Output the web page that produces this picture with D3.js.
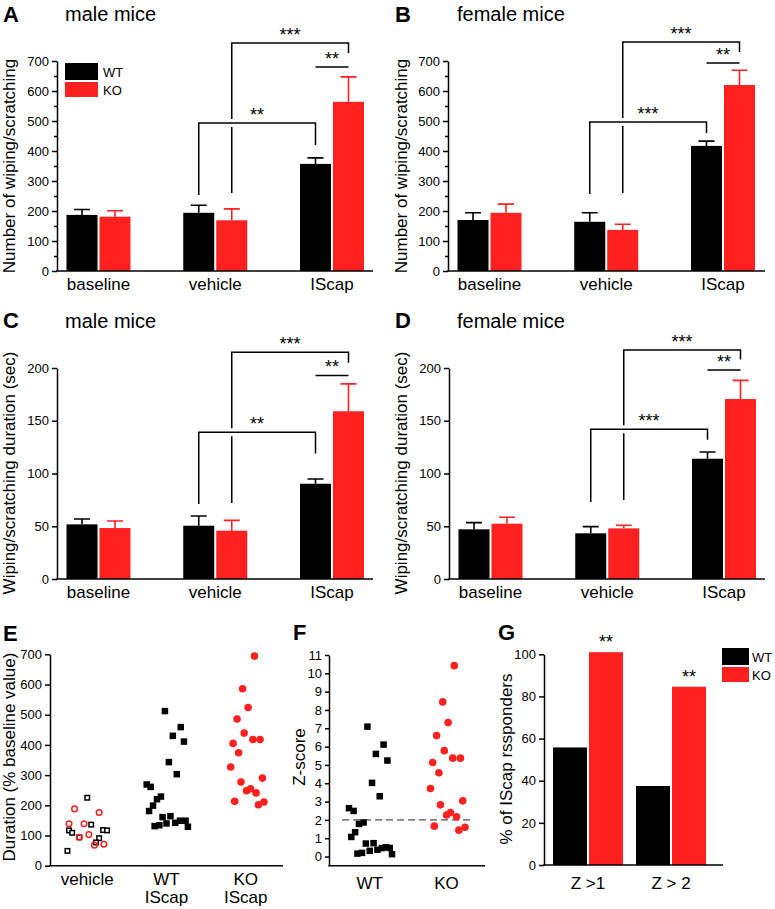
<!DOCTYPE html>
<html><head><meta charset="utf-8">
<script src="https://cdn.jsdelivr.net/npm/d3@7"></script>
<style>body{margin:0;background:#fff}svg{display:block}</style>
</head><body><svg id="chart" width="775" height="909"></svg>
<script>
// ---------- DATA ----------
const groups = ["baseline", "vehicle", "IScap"];
const genotypes = ["WT", "KO"];
// A: male, number of wiping/scratching
const aWT = [187, 194, 357], aWTsem = [18, 25, 20];
const aKO = [181, 169, 564], aKOsem = [20, 38, 83];
// B: female, number
const bWT = [170, 164, 417], bWTsem = [24, 30, 16];
const bKO = [194, 137, 620], bKOsem = [29, 19, 49];
// C: male, duration (sec)
const cWT = [51.8, 50.5, 90.3], cWTsem = [5.1, 9.2, 4.5];
const cKO = [48.3, 45.8, 159], cKOsem = [6.7, 9.8, 26];
// D: female, duration (sec)
const dWT = [47.1, 43.3, 114], dWTsem = [6.3, 6.3, 6.4];
const dKO = [52.4, 48.0, 170.6], dKOsem = [6.1, 2.9, 17.7];
const countTicks = [0, 100, 200, 300, 400, 500, 600, 700];
const countMinor = [50, 150, 250, 350, 450, 550, 650];
const durTicks = [0, 50, 100, 150, 200];
// significance brackets (data units)
const aBrackets = [
  {from: ["vehicle", "KO"], to: ["IScap", "KO"], y: 760, yFrom: 260, yTo: 727, label: "***"},
  {from: ["vehicle", "WT"], to: ["IScap", "WT"], y: 493, yFrom: 253, yTo: 420, label: "**", halo: true},
  {from: ["IScap", "WT"], to: ["IScap", "KO"], y: 680, yFrom: 680, yTo: 680, label: "**"}];
const bBrackets = [
  {from: ["vehicle", "KO"], to: ["IScap", "KO"], y: 763, yFrom: 260, yTo: 730, label: "***"},
  {from: ["vehicle", "WT"], to: ["IScap", "WT"], y: 497, yFrom: 257, yTo: 460, label: "***", halo: true},
  {from: ["IScap", "WT"], to: ["IScap", "KO"], y: 693, yFrom: 693, yTo: 693, label: "**"}];
const cBrackets = [
  {from: ["vehicle", "KO"], to: ["IScap", "KO"], y: 215, yFrom: 72, yTo: 205, label: "***"},
  {from: ["vehicle", "WT"], to: ["IScap", "WT"], y: 139, yFrom: 71, yTo: 119, label: "**", halo: true},
  {from: ["IScap", "WT"], to: ["IScap", "KO"], y: 193, yFrom: 193, yTo: 193, label: "**"}];
const dBrackets = [
  {from: ["vehicle", "KO"], to: ["IScap", "KO"], y: 217, yFrom: 75, yTo: 208, label: "***"},
  {from: ["vehicle", "WT"], to: ["IScap", "WT"], y: 142, yFrom: 73, yTo: 132, label: "***", halo: true},
  {from: ["IScap", "WT"], to: ["IScap", "KO"], y: 198, yFrom: 198, yTo: 198, label: "**"}];

// E: duration (% baseline), jitter in category units
const eCats = [["vehicle"], ["WT", "IScap"], ["KO", "IScap"]];
const eTicks = [0, 100, 200, 300, 400, 500, 600, 700];
const eVehWT = [225, 136, 117, 109, 94, 118, 117, 91, 77, 49];
const eVehWTjit = [0.00, 0.05, -0.23, -0.19, -0.10, 0.20, 0.25, 0.15, 0.11, -0.25];
const eVehKO = [188, 176, 139, 139, 94, 103, 68, 71];
const eVehKOjit = [-0.16, 0.15, -0.23, -0.04, -0.10, 0.02, 0.09, 0.21];
const eWT = [512, 459, 430, 411, 343, 303, 269, 261, 220, 229, 199, 181, 161, 164, 140, 131, 134, 142, 149, 149, 129];
const eWTjit = [-0.02, 0.18, 0.08, 0.22, 0.03, 0.13, -0.25, -0.20, -0.12, -0.07, -0.17, -0.22, -0.05, 0.05, 0.00, -0.15, -0.09, 0.11, 0.17, 0.24, 0.27];
const eKO = [694, 586, 524, 486, 439, 418, 418, 405, 374, 327, 290, 277, 248, 255, 241, 213, 202, 211];
const eKOjit = [0.11, -0.04, 0.03, -0.11, -0.02, 0.09, 0.18, -0.16, -0.09, -0.19, 0.21, -0.06, 0.01, 0.06, 0.13, -0.14, 0.16, 0.23];

// F: Z-score
const fCats = ["WT", "KO"];
const fTicks = [0, 1, 2, 3, 4, 5, 6, 7, 8, 9, 10, 11];
const fThreshold = 2;
const fWT = [7.09, 6.11, 5.60, 5.24, 4.02, 3.29, 2.64, 2.49, 1.86, 1.78, 1.33, 1.07, 0.71, 0.73, 0.31, 0.37, 0.46, 0.51, 0.47, 0.16, 0.20, 0.13];
const fWTjit = [-0.03, 0.18, 0.08, 0.23, 0.03, 0.13, -0.27, -0.21, -0.08, -0.14, -0.19, -0.24, -0.05, 0.05, 0.00, 0.10, 0.16, 0.21, 0.26, -0.16, -0.10, 0.29];
const fKO = [10.42, 8.44, 7.31, 6.60, 5.78, 5.37, 5.37, 5.13, 4.57, 3.71, 3.04, 2.82, 2.27, 2.40, 2.17, 1.66, 1.44, 1.60];
const fKOjit = [0.10, -0.05, 0.02, -0.13, -0.03, 0.08, 0.18, -0.18, -0.10, -0.21, 0.21, -0.08, 0.00, 0.05, 0.13, -0.16, 0.16, 0.24];

// G: % responders
const gCats = ["Z >1", "Z > 2"];
const gWT = [55.8, 37.5];
const gKO = [101, 84.6];
const gSig = ["**", "**"];
const gTicks = [0, 20, 40, 60, 80, 100];

// ---------- DRAWING ----------
const svg = d3.select("#chart");
const FONT = '"Liberation Sans", Arial, Helvetica, sans-serif';
const RED = "#ff2020";
const colors = ["#000000", RED];

function styleAxis(sel) {
  sel.attr("font-family", FONT);
  sel.selectAll("path.domain").attr("stroke", "#000").attr("stroke-width", 1.5);
  sel.selectAll(".tick line").attr("stroke", "#000").attr("stroke-width", 1.5);
  sel.selectAll(".tick text").attr("font-size", 13).attr("fill", "#000");
}
function text(x, y, t, o = {}) {
  return svg.append("text").attr("x", x).attr("y", y).text(t)
    .attr("font-family", FONT).attr("font-size", o.size || 17)
    .attr("font-weight", o.bold ? "bold" : "normal")
    .attr("text-anchor", o.anchor || "start").attr("fill", o.fill || "#000");
}
function ylabel(x, y, t) {
  svg.append("text").attr("transform", `translate(${x},${y}) rotate(-90)`)
    .attr("text-anchor", "middle").attr("font-family", FONT).attr("font-size", 17).text(t);
}

function barPanel(c) {
  const y = d3.scaleLinear().domain([0, c.ymax]).range([c.yBottom, c.yTop]);
  const x = d3.scalePoint().domain(groups).range([c.ax + 41.5, c.ax + 275]);
  const bw = 31;
  const bx = (grp, gi) => x(grp) + (gi === 0 ? -bw - 1 : 1);
  const cx = (grp, gi) => bx(grp, gi) + bw / 2;
  const g = svg.append("g");
  genotypes.forEach((gen, gi) => {
    const rows = groups.map((grp, i) => ({grp, m: c.means[gi][i], s: c.sems[gi][i]}));
    g.selectAll(null).data(rows).join("rect")
      .attr("x", d => bx(d.grp, gi)).attr("width", bw)
      .attr("y", d => y(d.m)).attr("height", d => y(0) - y(d.m))
      .attr("fill", colors[gi]);
    g.selectAll(null).data(rows).join("path")
      .attr("d", d => { const xx = cx(d.grp, gi), t = y(d.m + d.s); return `M${xx},${y(d.m)}V${t}M${xx - 8},${t}H${xx + 8}`; })
      .attr("stroke", colors[gi]).attr("stroke-width", 1.6).attr("fill", "none");
  });
  const ya = g.append("g").attr("transform", `translate(${c.ax},0)`)
    .call(d3.axisLeft(y).tickValues(c.ticks).tickSize(5).tickPadding(3).tickSizeOuter(0));
  styleAxis(ya);
  if (c.minor) {
    const ym = g.append("g").attr("transform", `translate(${c.ax},0)`)
      .call(d3.axisLeft(y).tickValues(c.minor).tickSize(3).tickFormat("").tickSizeOuter(0));
    ym.select("path.domain").remove();
    styleAxis(ym);
  }
  g.append("line").attr("x1", c.ax - 0.75).attr("x2", c.xRight).attr("y1", y(0)).attr("y2", y(0))
    .attr("stroke", "#000").attr("stroke-width", 1.5);
  g.selectAll(null).data(groups).join("text")
    .attr("x", d => x(d)).attr("y", c.labelY).attr("text-anchor", "middle")
    .attr("font-family", FONT).attr("font-size", 17).text(d => d);
  c.brackets.forEach(b => {
    const x1 = cx(b.from[0], genotypes.indexOf(b.from[1]));
    const x2 = cx(b.to[0], genotypes.indexOf(b.to[1]));
    const yy = y(b.y);
    if (b.halo) g.append("line").attr("x1", x1).attr("x2", x2).attr("y1", yy).attr("y2", yy)
      .attr("stroke", "#fff").attr("stroke-width", 8);
    g.append("path").attr("d", `M${x1},${y(b.yFrom)}V${yy}H${x2}V${y(b.yTo)}`)
      .attr("fill", "none").attr("stroke", "#000").attr("stroke-width", 1.5);
    g.append("text").attr("x", (x1 + x2) / 2).attr("y", yy - 2).attr("text-anchor", "middle")
      .attr("font-family", FONT).attr("font-size", 18).text(b.label);
  });
}

[["A", 3, 22], ["B", 395, 22], ["C", 3, 328], ["D", 395, 328], ["E", 3, 641], ["F", 293, 640], ["G", 498, 640]]
  .forEach(([t, x, y]) => text(x, y, t, {size: 22, bold: true}));
text(65, 21, "male mice", {size: 20});
text(457, 21, "female mice", {size: 20});
text(65, 328, "male mice", {size: 20});
text(457, 328, "female mice", {size: 20});

barPanel({ax: 57, xRight: 373, yBottom: 271, yTop: 61, ymax: 700, ticks: countTicks, minor: countMinor,
  means: [aWT, aKO], sems: [aWTsem, aKOsem], labelY: 290, brackets: aBrackets});
barPanel({ax: 448, xRight: 765, yBottom: 271, yTop: 61, ymax: 700, ticks: countTicks, minor: countMinor,
  means: [bWT, bKO], sems: [bWTsem, bKOsem], labelY: 290, brackets: bBrackets});
barPanel({ax: 57, xRight: 373, yBottom: 579, yTop: 368, ymax: 200, ticks: durTicks,
  means: [cWT, cKO], sems: [cWTsem, cKOsem], labelY: 598, brackets: cBrackets});
barPanel({ax: 449, xRight: 765, yBottom: 579, yTop: 368, ymax: 200, ticks: durTicks,
  means: [dWT, dKO], sems: [dWTsem, dKOsem], labelY: 598, brackets: dBrackets});

ylabel(15, 166, "Number of wiping/scratching");
ylabel(407, 166, "Number of wiping/scratching");
ylabel(15, 473, "Wiping/scratching duration (sec)");
ylabel(407, 473, "Wiping/scratching duration (sec)");

svg.append("rect").attr("x", 65).attr("y", 63).attr("width", 33).attr("height", 17).attr("fill", "#000");
svg.append("rect").attr("x", 65).attr("y", 82).attr("width", 33).attr("height", 15).attr("fill", RED);
text(103, 77, "WT", {size: 13});
text(103, 95, "KO", {size: 13});

// ---------- Panel E ----------
{
  const y = d3.scaleLinear().domain([0, 700]).range([865.7, 654.3]);
  const x = d3.scaleLinear().domain([-0.47, 2.47]).range([50, 283]);
  const g = svg.append("g");
  const ya = g.append("g").attr("transform", "translate(50,0)")
    .call(d3.axisLeft(y).tickValues(eTicks).tickSize(5).tickPadding(3).tickSizeOuter(0));
  styleAxis(ya);
  g.append("line").attr("x1", 49.25).attr("x2", 283).attr("y1", y(0)).attr("y2", y(0)).attr("stroke", "#000").attr("stroke-width", 1.5);
  const sq = (vals, jit, cat, filled, s) => g.selectAll(null).data(vals.map((v, i) => [cat + jit[i], v])).join("rect")
    .attr("x", d => x(d[0]) - s / 2).attr("y", d => y(d[1]) - s / 2).attr("width", s).attr("height", s)
    .attr("fill", filled ? "#000" : "#fff").attr("stroke", "#000").attr("stroke-width", filled ? 0 : 1.5);
  const ci = (vals, jit, cat, filled, r) => g.selectAll(null).data(vals.map((v, i) => [cat + jit[i], v])).join("circle")
    .attr("cx", d => x(d[0])).attr("cy", d => y(d[1])).attr("r", r)
    .attr("fill", filled ? RED : "none").attr("stroke", RED).attr("stroke-width", filled ? 0 : 1.5);
  sq(eVehWT, eVehWTjit, 0, false, 4.5);
  ci(eVehKO, eVehKOjit, 0, false, 2.8);
  sq(eWT, eWTjit, 1, true, 6.5);
  ci(eKO, eKOjit, 2, true, 3.8);
  eCats.forEach((lines, i) => lines.forEach((t, j) =>
    g.append("text").attr("x", x(i)).attr("y", 885 + j * 18).attr("text-anchor", "middle")
      .attr("font-family", FONT).attr("font-size", 17).text(t)));
  ylabel(15, 757, "Duration (% baseline value)");
}

// ---------- Panel F ----------
{
  const y = d3.scaleLinear().domain([-0.5, 11]).range([865.7, 655]);
  const x = d3.scaleLinear().domain([-0.53, 1.5]).range([329, 485]);
  const g = svg.append("g");
  const ya = g.append("g").attr("transform", "translate(329,0)")
    .call(d3.axisLeft(y).tickValues(fTicks).tickSize(4).tickPadding(3).tickSizeOuter(0));
  styleAxis(ya);
  g.append("line").attr("x1", 328.25).attr("x2", 485).attr("y1", y(-0.5)).attr("y2", y(-0.5)).attr("stroke", "#000").attr("stroke-width", 1.5);
  g.append("line").attr("x1", x(-0.36)).attr("x2", x(1.32)).attr("y1", y(fThreshold)).attr("y2", y(fThreshold))
    .attr("stroke", "#808080").attr("stroke-width", 1.6).attr("stroke-dasharray", "7,4");
  g.selectAll(null).data(fWT.map((v, i) => [0 + fWTjit[i], v])).join("rect")
    .attr("x", d => x(d[0]) - 3.25).attr("y", d => y(d[1]) - 3.25).attr("width", 6.5).attr("height", 6.5).attr("fill", "#000");
  g.selectAll(null).data(fKO.map((v, i) => [1 + fKOjit[i], v])).join("circle")
    .attr("cx", d => x(d[0])).attr("cy", d => y(d[1])).attr("r", 3.8).attr("fill", RED);
  fCats.forEach((t, i) => g.append("text").attr("x", x(i)).attr("y", 889).attr("text-anchor", "middle")
    .attr("font-family", FONT).attr("font-size", 17).text(t));
  ylabel(305, 757, "Z-score");
}

// ---------- Panel G ----------
{
  const y = d3.scaleLinear().domain([0, 100]).range([865, 654.3]);
  const x = d3.scalePoint().domain(gCats).range([588, 671]);
  const g = svg.append("g");
  const bw = 34;
  [gWT, gKO].forEach((vals, gi) => {
    g.selectAll(null).data(gCats.map((c, i) => [c, vals[i]])).join("rect")
      .attr("x", d => x(d[0]) + (gi === 0 ? -bw - 1 : 1)).attr("width", bw)
      .attr("y", d => y(d[1])).attr("height", d => y(0) - y(d[1])).attr("fill", colors[gi]);
  });
  g.selectAll(null).data(gCats.map((c, i) => [c, gKO[i], gSig[i]])).join("text")
    .attr("x", d => x(d[0]) + 1 + bw / 2).attr("y", d => y(d[1]) - 4).attr("text-anchor", "middle")
    .attr("font-family", FONT).attr("font-size", 18).text(d => d[2]);
  const ya = g.append("g").attr("transform", "translate(544,0)")
    .call(d3.axisLeft(y).tickValues(gTicks).tickSize(5).tickPadding(3).tickSizeOuter(0));
  styleAxis(ya);
  g.append("line").attr("x1", 543.25).attr("x2", 723).attr("y1", y(0)).attr("y2", y(0)).attr("stroke", "#000").attr("stroke-width", 1.5);
  gCats.forEach(t => g.append("text").attr("x", x(t)).attr("y", 889).attr("text-anchor", "middle")
    .attr("font-family", FONT).attr("font-size", 17).text(t));
  ylabel(512, 759, "% of IScap rssponders");
  g.append("rect").attr("x", 722).attr("y", 648).attr("width", 27).attr("height", 17).attr("fill", "#000");
  g.append("rect").attr("x", 722).attr("y", 667).attr("width", 27).attr("height", 15).attr("fill", RED);
  g.append("text").attr("x", 752).attr("y", 662).attr("font-family", FONT).attr("font-size", 13).text("WT");
  g.append("text").attr("x", 752).attr("y", 680).attr("font-family", FONT).attr("font-size", 13).text("KO");
}
</script></body></html>
